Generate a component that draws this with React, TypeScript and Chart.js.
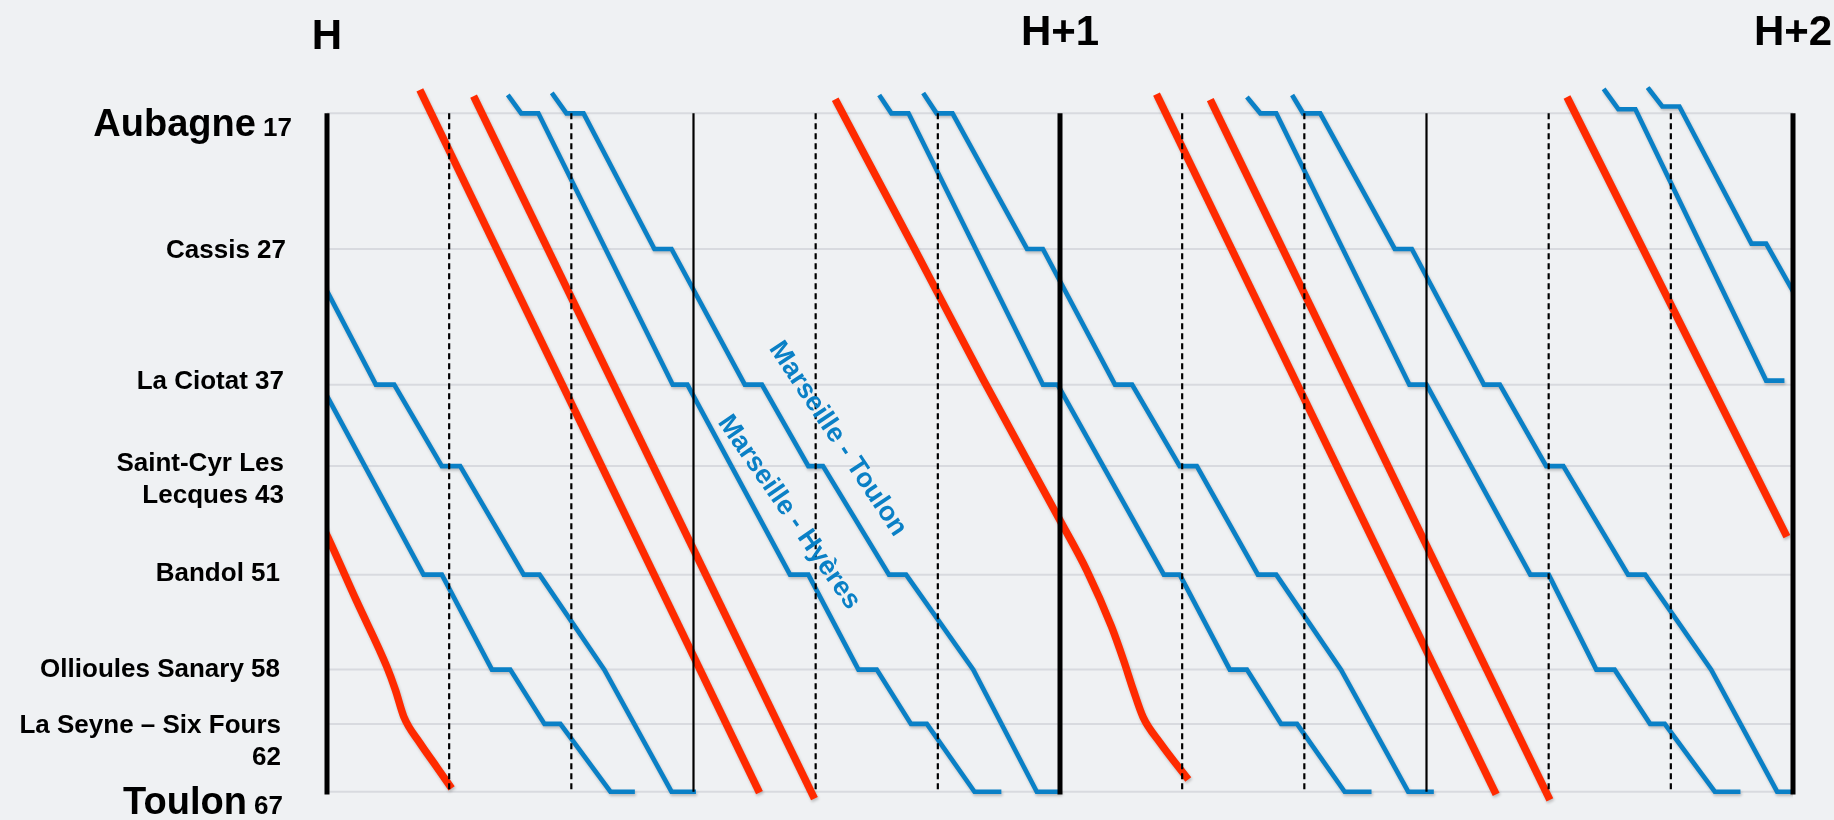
import React, { useEffect, useRef } from "react";
import { Chart, registerables } from "chart.js";

Chart.register(...registerables);

type Pt = [number, number]; // [minutes after H, km]

// ---------- stations (y axis, km) ----------
const stations = ["Aubagne", "Cassis", "La Ciotat", "Saint-Cyr Les Lecques", "Bandol", "Ollioules Sanary", "La Seyne – Six Fours", "Toulon"];
const stationKm = [17, 27, 37, 43, 51, 58, 62, 67];
const stationFirstLine = ["", "", "", "Saint-Cyr Les", "", "", "La Seyne – Six Fours", ""];
const majorStations = [0, 7];

// ---------- time axis (minutes) ----------
const hourLabels = ["H", "H+1", "H+2"];
const hourMinutes = [0, 60, 120];
const halfHourMinutes = [30, 90];
const tenMinuteMarks = [10, 20, 40, 50, 70, 80, 100, 110];

// ---------- route labels ----------
const routeLabels = ["Marseille - Toulon", "Marseille - Hyères"];
const routeLabelMinute = [41.8, 37.8];
const routeLabelKm = [41.0, 46.4];
const routeLabelAngle = [56.4, 55.2];

// ---------- TER Marseille - Hyères (blue) ----------
const hyeres0: Pt[] = [[-1.7, 37], [-0.5, 37], [7.9, 51], [9.4, 51], [13.5, 58], [15.0, 58], [17.8, 62], [19.1, 62], [23.2, 67], [25.2, 67]];
const hyeres1: Pt[] = [[14.8, 15.65], [15.9, 17], [17.3, 17], [28.3, 37], [29.5, 37], [37.9, 51], [39.4, 51], [43.5, 58], [45.0, 58], [47.8, 62], [49.1, 62], [53.0, 67], [55.2, 67]];
const hyeres2: Pt[] = [[45.2, 15.65], [46.2, 17], [47.6, 17], [58.6, 37], [59.8, 37], [68.5, 51], [69.8, 51], [73.9, 58], [75.3, 58], [78.1, 62], [79.4, 62], [83.3, 67], [85.5, 67]];
const hyeres3: Pt[] = [[75.3, 15.8], [76.4, 17], [77.7, 17], [88.6, 37], [90.0, 37], [98.5, 51], [100.0, 51], [103.9, 58], [105.4, 58], [108.3, 62], [109.5, 62], [113.6, 67], [115.7, 67]];
const hyeres4: Pt[] = [[104.5, 15.2], [105.7, 16.7], [107.1, 16.7], [117.8, 36.7], [119.3, 36.7]];

// ---------- TER Marseille - Toulon (blue) ----------
const toulon0: Pt[] = [[-3.2, 27], [-1.8, 27], [4.0, 37], [5.5, 37], [9.4, 43], [10.9, 43], [16.1, 51], [17.4, 51], [22.7, 58], [28.2, 67], [30.2, 67]];
const toulon1: Pt[] = [[18.4, 15.5], [19.6, 17], [21.0, 17], [26.8, 27], [28.2, 27], [34.2, 37], [35.6, 37], [39.4, 43], [40.6, 43], [46.0, 51], [47.4, 51], [52.9, 58], [58.1, 67], [60.1, 67]];
const toulon2: Pt[] = [[48.8, 15.5], [49.9, 17], [51.2, 17], [57.3, 27], [58.6, 27], [64.5, 37], [65.9, 37], [69.8, 43], [71.2, 43], [76.2, 51], [77.7, 51], [83.0, 58], [88.5, 67], [90.6, 67]];
const toulon3: Pt[] = [[79.0, 15.65], [79.9, 17], [81.3, 17], [87.4, 27], [88.8, 27], [94.7, 37], [96.0, 37], [99.8, 43], [101.2, 43], [106.5, 51], [107.9, 51], [113.3, 58], [118.7, 67], [120.7, 67]];
const toulon4: Pt[] = [[108.1, 15.1], [109.3, 16.5], [110.7, 16.5], [116.6, 26.6], [117.8, 26.6], [124.3, 37]];

// ---------- fast trains (red) ----------
const express1: Pt[] = [[7.6, 15.28], [35.4, 67.07]];
const express2: Pt[] = [[12.0, 15.73], [39.9, 67.5]];
const express3: Pt[] = [[67.9, 15.58], [95.7, 67.2]];
const express4: Pt[] = [[72.3, 16.0], [100.1, 67.6]];
const slowRed0: Pt[] = [[-2.0, 44.4], [0.1, 48.3], [2.4, 52.9], [4.9, 57.8], [5.6, 59.5], [6.3, 61.5], [7.6, 63.4], [9.0, 65.2], [10.2, 66.75]];
const slowRed1: Pt[] = [[41.6, 15.97], [48.1, 27.0], [53.7, 36.6], [60.0, 47.0], [62.2, 50.7], [64.2, 54.8], [65.2, 57.3], [66.0, 59.5], [66.8, 61.5], [68.2, 63.4], [70.5, 66.1]];
const slowRed2: Pt[] = [[101.5, 15.8], [119.5, 48.2]];

const blueTrains = [hyeres0, hyeres1, hyeres2, hyeres3, hyeres4, toulon0, toulon1, toulon2, toulon3, toulon4];
const redStraight = [express1, express2, express3, express4, slowRed2];
const redCurved = [slowRed0, slowRed1];

// ---------- styles ----------
const BLUE = "#0a80c6";
const RED = "#ff2a00";
const GRID = "#d8dadf";
const BG = "#eff1f3";
const FONT = '"Liberation Sans", Arial, Helvetica, sans-serif';

// label layout (px): gap from chart-area left to label right edge, and caps-center offset from gridline
const labelGap = [35, 41, 43, 43, 47, 47, 46, 44];
const labelDy = [10, 0, -5, -4, -3, -2, 0, 9];
const hourBaseline = [49, 45, 45];

const toPts = (arr: Pt[]) => arr.map(([x, y]) => ({ x, y }));

const annotations = {
  id: "annotations",
  beforeDatasetDraw(chart: any, args: any) {
    const ds: any = chart.data.datasets[args.index];
    if (ds.shadow) {
      const c = chart.ctx;
      c.save();
      c.shadowColor = "rgba(0,0,0,0.22)";
      c.shadowBlur = 3;
      c.shadowOffsetX = 1;
      c.shadowOffsetY = 2;
    }
  },
  afterDatasetDraw(chart: any, args: any) {
    const ds: any = chart.data.datasets[args.index];
    if (ds.shadow) chart.ctx.restore();
  },
  afterDatasetsDraw(chart: any) {
    const { ctx, chartArea } = chart;
    const xs = chart.scales.x;
    const ys = chart.scales.y;

    // route labels
    ctx.save();
    ctx.fillStyle = BLUE;
    ctx.font = `bold 27px ${FONT}`;
    ctx.textAlign = "center";
    ctx.textBaseline = "middle";
    routeLabels.forEach((t, i) => {
      ctx.save();
      ctx.translate(xs.getPixelForValue(routeLabelMinute[i]), ys.getPixelForValue(routeLabelKm[i]));
      ctx.rotate((routeLabelAngle[i] * Math.PI) / 180);
      ctx.fillText(t, 0, 0);
      ctx.restore();
    });
    ctx.restore();

    // hour labels
    ctx.save();
    ctx.fillStyle = "#000";
    ctx.font = `bold 42px ${FONT}`;
    ctx.textAlign = "center";
    ctx.textBaseline = "alphabetic";
    hourLabels.forEach((t, i) => {
      ctx.fillText(t, xs.getPixelForValue(hourMinutes[i]), hourBaseline[i]);
    });
    ctx.restore();

    // station labels
    ctx.save();
    ctx.fillStyle = "#000";
    ctx.textBaseline = "alphabetic";
    ctx.textAlign = "right";
    const cap = 0.716;
    stations.forEach((name, i) => {
      const right = chartArea.left - labelGap[i];
      const cy = ys.getPixelForValue(stationKm[i]) + labelDy[i];
      const km = String(stationKm[i]);
      if (majorStations.includes(i)) {
        ctx.font = `bold 26px ${FONT}`;
        const kmText = " " + km;
        const w = ctx.measureText(kmText).width;
        ctx.fillText(kmText, right, cy + (36 * cap) / 2);
        ctx.font = `bold 38px ${FONT}`;
        ctx.fillText(name, right - w, cy + (36 * cap) / 2);
      } else {
        ctx.font = `bold 26px ${FONT}`;
        const full = name + " " + km;
        const first = stationFirstLine[i];
        if (first) {
          const second = full.slice(first.length).trim();
          ctx.fillText(first, right, cy + (26 * cap) / 2);
          ctx.fillText(second, right, cy + 32 + (26 * cap) / 2);
        } else {
          ctx.fillText(full, right, cy + (26 * cap) / 2);
        }
      }
    });
    ctx.restore();
  },
};

export default function App() {
  const ref = useRef<HTMLCanvasElement>(null);

  useEffect(() => {
    document.body.style.margin = "0";
    document.body.style.background = BG;
    const canvas = ref.current!;
    const datasets: any[] = [];

    // station gridlines
    stationKm.forEach((km) =>
      datasets.push({
        data: [{ x: 0, y: km }, { x: 120, y: km }],
        borderColor: GRID,
        borderWidth: 2,
        order: 5,
      })
    );

    // blue TER
    blueTrains.forEach((t) =>
      datasets.push({
        data: toPts(t),
        borderColor: BLUE,
        borderWidth: 4.7,
        order: 3,
        shadow: true,
        borderJoinStyle: "miter",
      })
    );

    // red trains
    redStraight.forEach((t) =>
      datasets.push({
        data: toPts(t),
        borderColor: RED,
        borderWidth: 7.5,
        order: 3,
        shadow: true,
      })
    );
    redCurved.forEach((t) =>
      datasets.push({
        data: toPts(t),
        borderColor: RED,
        borderWidth: 7.5,
        order: 3,
        shadow: true,
        cubicInterpolationMode: "monotone",
      })
    );

    // time marks
    tenMinuteMarks.forEach((m) =>
      datasets.push({
        data: [{ x: m, y: 17 }, { x: m, y: 67 }],
        borderColor: "#000",
        borderWidth: 2.2,
        borderDash: [6, 4],
        order: 1,
      })
    );
    halfHourMinutes.forEach((m) =>
      datasets.push({
        data: [{ x: m, y: 17 }, { x: m, y: 67 }],
        borderColor: "#000",
        borderWidth: 2.2,
        order: 1,
      })
    );
    hourMinutes.forEach((m) =>
      datasets.push({
        data: [{ x: m, y: 17 }, { x: m, y: 67.2 }],
        borderColor: "#000",
        borderWidth: 5,
        order: 1,
        clip: false,
      })
    );

    const chart = new Chart(canvas, {
      type: "line",
      data: { datasets },
      options: {
        responsive: false,
        animation: false,
        devicePixelRatio: 1,
        events: [],
        layout: { padding: { left: 327, right: 41, top: 86.16, bottom: 14.7 } },
        elements: {
          point: { radius: 0, hoverRadius: 0 },
          line: { tension: 0, fill: false, borderCapStyle: "butt" },
        },
        scales: {
          x: { type: "linear", min: 0, max: 120, display: false },
          y: { type: "linear", min: 15, max: 68, reverse: true, display: false },
        },
        plugins: {
          legend: { display: false },
          tooltip: { enabled: false },
        },
      },
      plugins: [annotations],
    } as any);

    return () => chart.destroy();
  }, []);

  return (
    <div style={{ width: 1834, height: 820, background: BG }}>
      <canvas ref={ref} width={1834} height={820} style={{ display: "block" }} />
    </div>
  );
}
